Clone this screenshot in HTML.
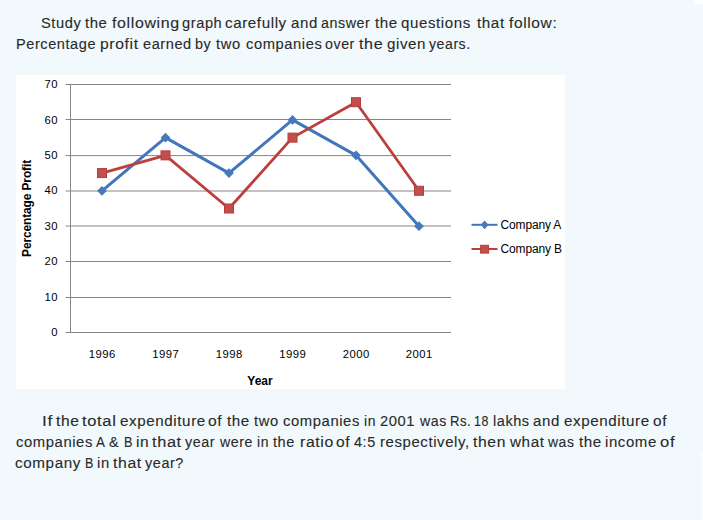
<!DOCTYPE html>
<html><head><meta charset="utf-8">
<style>
html,body{margin:0;padding:0;}
body{width:703px;height:520px;overflow:hidden;background:#F1F9FD;position:relative;font-family:"Liberation Sans",sans-serif;color:#2a2a2a;}
.w{position:absolute;white-space:nowrap;font-size:15.3px;line-height:20px;transform-origin:0 0;letter-spacing:0.6px;-webkit-text-stroke:0.12px #2a2a2a;}
#topwhite{position:absolute;left:695px;top:0;width:8px;height:4px;background:#fff;}
#rightwhite{position:absolute;left:701px;top:452px;width:2px;height:68px;background:#F8FCFE;}
#chart{position:absolute;left:16px;top:75px;width:549px;height:314px;background:#fff;}
svg{position:absolute;left:0;top:0;}
</style></head>
<body>
<div id="topwhite"></div>
<div id="rightwhite"></div>
<!--TEXT1-->
<span class="w" id="l1_0" style="left:40.52px;top:13px;transform:scaleX(0.9587)">Study</span>
<span class="w" id="l1_1" style="left:85.04px;top:13px;transform:scaleX(0.9744)">the</span>
<span class="w" id="l1_2" style="left:112.24px;top:13px;transform:scaleX(1.0435)">following</span>
<span class="w" id="l1_3" style="left:182.34px;top:13px;transform:scaleX(0.9568)">graph</span>
<span class="w" id="l1_4" style="left:225.46px;top:13px;transform:scaleX(0.9909)">carefully</span>
<span class="w" id="l1_5" style="left:291.43px;top:13px;transform:scaleX(0.9837)">and</span>
<span class="w" id="l1_6" style="left:320.54px;top:13px;transform:scaleX(0.9333)">answer</span>
<span class="w" id="l1_7" style="left:375.44px;top:13px;transform:scaleX(0.9905)">the</span>
<span class="w" id="l1_8" style="left:401.47px;top:13px;transform:scaleX(0.9847)">questions</span>
<span class="w" id="l1_9" style="left:476.63px;top:13px;transform:scaleX(0.9923)">that</span>
<span class="w" id="l1_10" style="left:508.66px;top:13px;transform:scaleX(1.0165)">follow:</span>
<span class="w" id="l2_0" style="left:16.16px;top:34px;transform:scaleX(0.9500)">Percentage</span>
<span class="w" id="l2_1" style="left:99.67px;top:34px;transform:scaleX(1.0276)">profit</span>
<span class="w" id="l2_2" style="left:142.55px;top:34px;transform:scaleX(0.9513)">earned</span>
<span class="w" id="l2_3" style="left:194.55px;top:34px;transform:scaleX(0.9409)">by</span>
<span class="w" id="l2_4" style="left:216.25px;top:34px;transform:scaleX(0.9628)">two</span>
<span class="w" id="l2_5" style="left:245.54px;top:34px;transform:scaleX(0.9616)">companies</span>
<span class="w" id="l2_6" style="left:325.47px;top:34px;transform:scaleX(0.9305)">over</span>
<span class="w" id="l2_7" style="left:358.71px;top:34px;transform:scaleX(1.0523)">the</span>
<span class="w" id="l2_8" style="left:386.86px;top:34px;transform:scaleX(0.9882)">given</span>
<span class="w" id="l2_9" style="left:428.50px;top:34px;transform:scaleX(0.9211)">years.</span>
<!--/TEXT1-->

<div id="chart"></div>
<svg width="703" height="520" viewBox="0 0 703 520" style="font-family:'Liberation Sans',sans-serif;">
  <g stroke="#868686" stroke-width="1" fill="none">
    <line x1="65.6" y1="84.5" x2="451" y2="84.5"/>
    <line x1="65.6" y1="119.5" x2="451" y2="119.5"/>
    <line x1="65.6" y1="155.6" x2="451" y2="155.6"/>
    <line x1="65.6" y1="191.0" x2="451" y2="191.0"/>
    <line x1="65.6" y1="226.0" x2="451" y2="226.0"/>
    <line x1="65.6" y1="261.5" x2="451" y2="261.5"/>
    <line x1="65.6" y1="297.5" x2="451" y2="297.5"/>
    <line x1="65.6" y1="332.5" x2="451" y2="332.5"/>
    <line x1="70.5" y1="84" x2="70.5" y2="333"/>
  </g>
  <g font-size="11.3" fill="#000" text-anchor="end" letter-spacing="0.4">
    <text x="57.9" y="88.1">70</text>
    <text x="57.9" y="123.5">60</text>
    <text x="57.9" y="159.0">50</text>
    <text x="57.9" y="194.4">40</text>
    <text x="57.9" y="229.8">30</text>
    <text x="57.9" y="265.2">20</text>
    <text x="57.9" y="300.7">10</text>
    <text x="57.9" y="336.1">0</text>
  </g>
  <g font-size="11.3" fill="#000" text-anchor="middle" letter-spacing="0.45">
    <text x="102.2" y="358">1996</text>
    <text x="165.7" y="358">1997</text>
    <text x="229.2" y="358">1998</text>
    <text x="292.7" y="358">1999</text>
    <text x="356.2" y="358">2000</text>
    <text x="419.2" y="358">2001</text>
  </g>
  <text x="260" y="384.5" font-size="12" font-weight="bold" text-anchor="middle" fill="#000">Year</text>
  <text transform="translate(30.7,208.5) rotate(-90)" font-size="12" letter-spacing="-0.14" font-weight="bold" text-anchor="middle" fill="#000">Percentage Profit</text>

  <!-- Company A: 40,55,45,60,50,30 -->
  <polyline fill="none" stroke="#4276BB" stroke-width="3" stroke-linejoin="round"
    points="102,190.79 165.5,137.64 229,173.07 292.5,119.93 356,155.36 419,226.21"/>
  <g fill="#4679BC">
    <path d="M102 185.89 L106.9 190.79 L102 195.69 L97.1 190.79Z"/>
    <path d="M165.5 132.74 L170.4 137.64 L165.5 142.54 L160.6 137.64Z"/>
    <path d="M229 168.17 L233.9 173.07 L229 177.97 L224.1 173.07Z"/>
    <path d="M292.5 115.03 L297.4 119.93 L292.5 124.83 L287.6 119.93Z"/>
    <path d="M356 150.46 L360.9 155.36 L356 160.26 L351.1 155.36Z"/>
    <path d="M419 221.31 L423.9 226.21 L419 231.11 L414.1 226.21Z"/>
  </g>
  <!-- Company B: 45,50,35,55,65,40 -->
  <polyline fill="none" stroke="#BC3F3D" stroke-width="2.8" stroke-linejoin="round"
    points="102,173.07 165.5,155.36 229,208.50 292.5,137.64 356,102.21 419,190.79"/>
  <g fill="#C0504D" stroke="#B93B39" stroke-width="1">
    <rect x="97.5" y="168.57" width="9" height="9"/>
    <rect x="161.0" y="150.86" width="9" height="9"/>
    <rect x="224.5" y="204.00" width="9" height="9"/>
    <rect x="288.0" y="133.14" width="9" height="9"/>
    <rect x="351.5" y="97.71" width="9" height="9"/>
    <rect x="414.5" y="186.29" width="9" height="9"/>
  </g>

  <!-- Legend -->
  <line x1="471.5" y1="224.8" x2="497.5" y2="224.8" stroke="#4276BB" stroke-width="2"/>
  <path d="M484.6 220.4 L488.5 224.8 L484.6 229.2 L480.7 224.8Z" fill="#4679BC"/>
  <line x1="471.5" y1="249" x2="497.5" y2="249" stroke="#BC3F3D" stroke-width="2"/>
  <rect x="480.6" y="245.3" width="8" height="7.8" fill="#C0504D" stroke="#B93B39" stroke-width="1"/>
  <text x="500.5" y="228.5" font-size="12" letter-spacing="-0.15" fill="#000">Company A</text>
  <text x="500.5" y="252.7" font-size="12" letter-spacing="-0.15" fill="#000">Company B</text>
</svg>

<!--TEXT2-->
<span class="w" id="p1_0" style="left:41.66px;top:411px;transform:scaleX(1.1329)">If</span>
<span class="w" id="p1_1" style="left:55.63px;top:411px;transform:scaleX(1.0201)">the</span>
<span class="w" id="p1_2" style="left:81.62px;top:411px;transform:scaleX(1.0794)">total</span>
<span class="w" id="p1_3" style="left:119.66px;top:411px;transform:scaleX(0.9916)">expenditure</span>
<span class="w" id="p1_4" style="left:208.43px;top:411px;transform:scaleX(1.0240)">of</span>
<span class="w" id="p1_5" style="left:226.84px;top:411px;transform:scaleX(0.9933)">the</span>
<span class="w" id="p1_6" style="left:254.25px;top:411px;transform:scaleX(0.9628)">two</span>
<span class="w" id="p1_7" style="left:282.74px;top:411px;transform:scaleX(0.9690)">companies</span>
<span class="w" id="p1_8" style="left:364.38px;top:411px;transform:scaleX(0.9144)">in</span>
<span class="w" id="p1_9" style="left:379.91px;top:411px;transform:scaleX(0.9625)">2001</span>
<span class="w" id="p1_10" style="left:419.81px;top:411px;transform:scaleX(0.9246)">was</span>
<span class="w" id="p1_11" style="left:450.17px;top:411px;transform:scaleX(0.8600)">Rs.</span>
<span class="w" id="p1_12" style="left:474.47px;top:411px;transform:scaleX(0.8120)">18</span>
<span class="w" id="p1_13" style="left:493.48px;top:411px;transform:scaleX(0.9477)">lakhs</span>
<span class="w" id="p1_14" style="left:533.43px;top:411px;transform:scaleX(0.9837)">and</span>
<span class="w" id="p1_15" style="left:563.87px;top:411px;transform:scaleX(0.9903)">expenditure</span>
<span class="w" id="p1_16" style="left:652.91px;top:411px;transform:scaleX(1.0025)">of</span>
<span class="w" id="p2_0" style="left:15.74px;top:432px;transform:scaleX(0.9688)">companies</span>
<span class="w" id="p2_1" style="left:96.10px;top:432px;transform:scaleX(0.8748)">A</span>
<span class="w" id="p2_2" style="left:109.45px;top:432px;transform:scaleX(0.9438)">&amp;</span>
<span class="w" id="p2_3" style="left:123.61px;top:432px;transform:scaleX(0.8319)">B</span>
<span class="w" id="p2_4" style="left:135.50px;top:432px;transform:scaleX(1.0176)">in</span>
<span class="w" id="p2_5" style="left:152.42px;top:432px;transform:scaleX(1.0666)">that</span>
<span class="w" id="p2_6" style="left:185.49px;top:432px;transform:scaleX(0.9348)">year</span>
<span class="w" id="p2_7" style="left:219.62px;top:432px;transform:scaleX(0.9265)">were</span>
<span class="w" id="p2_8" style="left:256.61px;top:432px;transform:scaleX(0.9125)">in</span>
<span class="w" id="p2_9" style="left:273.26px;top:432px;transform:scaleX(0.9514)">the</span>
<span class="w" id="p2_10" style="left:299.67px;top:432px;transform:scaleX(1.0321)">ratio</span>
<span class="w" id="p2_11" style="left:336.26px;top:432px;transform:scaleX(1.0167)">of</span>
<span class="w" id="p2_12" style="left:354.23px;top:432px;transform:scaleX(0.9458)">4:5</span>
<span class="w" id="p2_13" style="left:380.34px;top:432px;transform:scaleX(0.9780)">respectively,</span>
<span class="w" id="p2_14" style="left:473.03px;top:432px;transform:scaleX(1.0252)">then</span>
<span class="w" id="p2_15" style="left:509.58px;top:432px;transform:scaleX(0.9966)">what</span>
<span class="w" id="p2_16" style="left:548.42px;top:432px;transform:scaleX(0.9114)">was</span>
<span class="w" id="p2_17" style="left:579.04px;top:432px;transform:scaleX(0.9918)">the</span>
<span class="w" id="p2_18" style="left:605.44px;top:432px;transform:scaleX(0.9792)">income</span>
<span class="w" id="p2_19" style="left:660.11px;top:432px;transform:scaleX(1.0846)">of</span>
<span class="w" id="p3_0" style="left:15.46px;top:453px;transform:scaleX(0.9972)">company</span>
<span class="w" id="p3_1" style="left:84.85px;top:453px;transform:scaleX(0.8241)">B</span>
<span class="w" id="p3_2" style="left:97.25px;top:453px;transform:scaleX(0.9693)">in</span>
<span class="w" id="p3_3" style="left:113.02px;top:453px;transform:scaleX(1.0301)">that</span>
<span class="w" id="p3_4" style="left:144.89px;top:453px;transform:scaleX(0.9436)">year?</span>
<!--/TEXT2-->
</body></html>
